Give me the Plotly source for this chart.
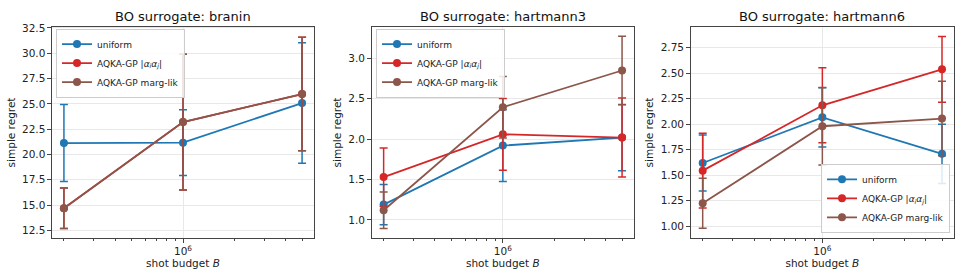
import plotly.graph_objects as go

# ---------------- data ----------------
shots = [2e5, 1e6, 5e6]
methods = ["uniform", "AQKA-GP |<i>α<sub>i</sub>α<sub>j</sub></i>|", "AQKA-GP marg-lik"]
colors = ["#1f77b4", "#d62728", "#8c564b"]
panel_titles = ["BO surrogate: branin", "BO surrogate: hartmann3", "BO surrogate: hartmann6"]

# branin
branin_uniform = [21.13, 21.17, 25.08]
branin_uniform_err = [3.8, 3.25, 5.95]
branin_abs = [14.68, 23.2, 25.97]
branin_abs_err = [2.0, 6.7, 5.6]
branin_marg = [14.68, 23.2, 25.97]
branin_marg_err = [2.0, 6.7, 5.6]

# hartmann3
h3_uniform = [1.19, 1.92, 2.02]
h3_uniform_err = [0.25, 0.445, 0.41]
h3_abs = [1.53, 2.06, 2.02]
h3_abs_err = [0.36, 0.445, 0.49]
h3_marg = [1.12, 2.395, 2.85]
h3_marg_err = [0.225, 0.38, 0.425]

# hartmann6
h6_uniform = [1.62, 2.067, 1.71]
h6_uniform_err = [0.275, 0.29, 0.29]
h6_abs = [1.545, 2.185, 2.537]
h6_abs_err = [0.366, 0.367, 0.322]
h6_marg = [1.225, 1.98, 2.055]
h6_marg_err = [0.245, 0.38, 0.365]

panels = [
    [(branin_uniform, branin_uniform_err), (branin_abs, branin_abs_err), (branin_marg, branin_marg_err)],
    [(h3_uniform, h3_uniform_err), (h3_abs, h3_abs_err), (h3_marg, h3_marg_err)],
    [(h6_uniform, h6_uniform_err), (h6_abs, h6_abs_err), (h6_marg, h6_marg_err)],
]

y_ranges = [[11.75, 32.6], [0.776, 3.39], [0.885, 2.953]]
y_dticks = [2.5, 0.5, 0.25]
y_tick0 = [12.5, 1.0, 1.0]
y_formats = [".1f", ".1f", ".2f"]

x_ticks = [1e6]
x_ticktext = ["10<sup>6</sup>"]
x_minor = [2e5, 3e5, 4e5, 5e5, 6e5, 7e5, 8e5, 9e5, 2e6, 3e6, 4e6, 5e6]

# ---------------- layout geometry (px) ----------------
W, H = 960, 277
x_doms = [(52, 314), (371.7, 634), (690.7, 954)]
y_top, y_bot = 22.3, 237.3
frame = "#444444"
gridc = "#e8e8e8"
font_family = "DejaVu Sans"

fig = go.Figure()

for p, series in enumerate(panels):
    xa = "x" if p == 0 else f"x{p+1}"
    ya = "y" if p == 0 else f"y{p+1}"
    for m, (vals, errs) in enumerate(series):
        fig.add_trace(go.Scatter(
            x=shots, y=vals,
            mode="lines+markers",
            name=methods[m],
            legendgroup=f"p{p}",
            legend="legend" if p == 0 else f"legend{p+1}",
            line=dict(color=colors[m], width=1.8),
            marker=dict(color=colors[m], size=8),
            error_y=dict(type="data", array=errs, visible=True,
                         color=colors[m], thickness=1.5, width=4),
            xaxis=xa, yaxis=ya,
        ))

layout = dict(
    width=W, height=H,
    margin=dict(l=0, r=0, t=0, b=0),
    paper_bgcolor="white", plot_bgcolor="white",
    font=dict(family=font_family, size=10.5, color="#222222"),
    showlegend=True,
)

for p in range(3):
    xk = "xaxis" if p == 0 else f"xaxis{p+1}"
    yk = "yaxis" if p == 0 else f"yaxis{p+1}"
    x0, x1 = x_doms[p]
    layout[xk] = dict(
        type="log", domain=[x0 / W, x1 / W], range=[5.231, 6.769],
        anchor="y" if p == 0 else f"y{p+1}",
        tickmode="array", tickvals=x_ticks, ticktext=x_ticktext,
        ticks="outside", ticklen=3.5, tickwidth=0.8, tickcolor=frame,
        showline=True, linecolor=frame, linewidth=1.1, mirror=True,
        showgrid=True, gridcolor=gridc, gridwidth=0.8,
        zeroline=False,
        minor=dict(tickmode="array", tickvals=x_minor, ticks="outside",
                   ticklen=2, tickwidth=0.6, tickcolor=frame, showgrid=False),
        title=dict(text="shot budget <i>B</i>", font=dict(size=10.5), standoff=3),
        tickfont=dict(size=10.5),
    )
    layout[yk] = dict(
        domain=[(H - y_bot) / H, (H - y_top) / H],
        anchor="x" if p == 0 else f"x{p+1}",
        range=y_ranges[p], tickmode="linear", tick0=y_tick0[p], dtick=y_dticks[p],
        tickformat=y_formats[p],
        ticks="outside", ticklen=3.5, tickwidth=0.8, tickcolor=frame,
        showline=True, linecolor=frame, linewidth=1.1, mirror=True,
        showgrid=True, gridcolor=gridc, gridwidth=0.8,
        zeroline=False,
        title=dict(text="simple regret", font=dict(size=10.5), standoff=4),
        tickfont=dict(size=10.5),
    )

legend_common = dict(
    bgcolor="rgba(255,255,255,0.85)", bordercolor="#cccccc", borderwidth=1,
    font=dict(size=9, family=font_family), tracegroupgap=0,
    itemwidth=30,
)
layout["legend"] = dict(x=56 / W, y=(H - 24) / H, xanchor="left", yanchor="top", **legend_common)
layout["legend2"] = dict(x=376 / W, y=(H - 24) / H, xanchor="left", yanchor="top", **legend_common)
layout["legend3"] = dict(x=950 / W, y=(H - 232) / H, xanchor="right", yanchor="bottom", **legend_common)

annotations = []
for p in range(3):
    x0, x1 = x_doms[p]
    annotations.append(dict(
        text=panel_titles[p], x=(x0 + x1) / 2 / W, y=(H - 12) / H,
        xref="paper", yref="paper", xanchor="center", yanchor="middle",
        showarrow=False, font=dict(size=13, family=font_family, color="#111111"),
    ))
layout["annotations"] = annotations

fig.update_layout(**layout)
fig.write_html("out.html")
